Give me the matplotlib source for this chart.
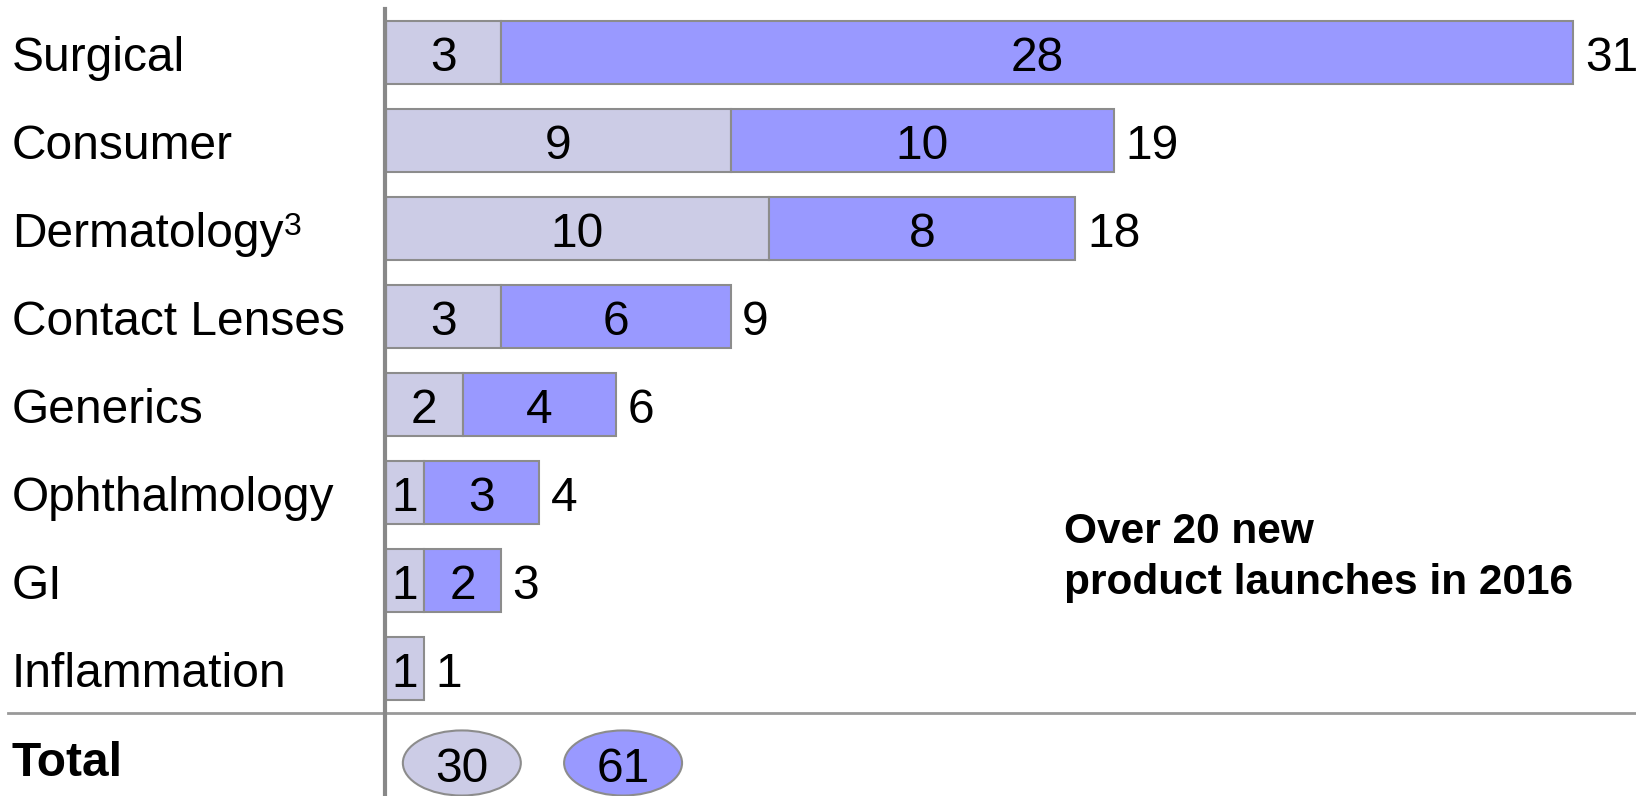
import matplotlib
matplotlib.use("Agg")
import matplotlib.pyplot as plt
from matplotlib.patches import Ellipse
from matplotlib.lines import Line2D
import matplotlib.transforms as mtransforms

plt.rcParams['font.family'] = ['Liberation Sans', 'DejaVu Sans']

categories = ["Surgical", "Consumer", "Dermatology", "Contact Lenses",
              "Generics", "Ophthalmology", "GI", "Inflammation"]
existing = [3, 9, 10, 3, 2, 1, 1, 1]
new = [28, 10, 8, 6, 4, 3, 2, 0]
footnotes = {"Dermatology": "3"}

light = "#CCCCE6"
blue = "#9999FF"
edge = "#8C8C8C"

W, H = 1636, 796
fig = plt.figure(figsize=(W / 100, H / 100), dpi=100)
x0 = 386 / W
ax = fig.add_axes([x0, 0, 1 - x0, 1])
px_per_unit = 38.3
ax.set_xlim(0, (W - 386) / px_per_unit)
row_px = 88.0
top_px = 52.5
ax.set_ylim((H - top_px) / row_px, -top_px / row_px)
ax.axis("off")

bar_h = 0.716
fs = 34.5
dy = 0.07  # nudge text so the digits sit centred in the bars
for i, (cat, a, b) in enumerate(zip(categories, existing, new)):
    ax.barh(i, a, height=bar_h, color=light, edgecolor=edge, linewidth=1.5)
    ax.text(a / 2, i + dy, str(a), ha="center", va="center", fontsize=fs)
    if b > 0:
        ax.barh(i, b, left=a, height=bar_h, color=blue, edgecolor=edge, linewidth=1.5)
        ax.text(a + b / 2, i + dy, str(b), ha="center", va="center", fontsize=fs)
    ax.text(a + b + 0.3, i + dy, str(a + b), ha="left", va="center", fontsize=fs)

lbl_tr = mtransforms.blended_transform_factory(fig.transFigure, ax.transData)
for i, cat in enumerate(categories):
    t = ax.text(12 / W, i + dy, cat, transform=lbl_tr, ha="left", va="center", fontsize=fs)
    if cat in footnotes:
        ax.annotate(footnotes[cat], xy=(1, 1), xycoords=t, xytext=(0.5, 0),
                    textcoords="offset points", ha="left", va="top", fontsize=23)

# separator between categories and totals
sep_y = len(categories) - 0.5
ax.add_line(Line2D([8 / W, 1], [sep_y, sep_y], transform=lbl_tr, color="#999999",
                   linewidth=2, clip_on=False))
# vertical axis line
fig.add_artist(Line2D([385 / W, 385 / W], [0, 1 - 9 / H], color="#888888", linewidth=3))

# totals row
tot_y = (763 - top_px) / row_px
ax.text(12 / W, tot_y, "Total", transform=lbl_tr, ha="left", va="center",
        fontsize=fs, fontweight="bold")
totals = [sum(existing), sum(new)]
for cx, val, col in zip([1.98, 6.19], totals, [light, blue]):
    ax.add_patch(Ellipse((cx, tot_y), 3.08, 0.74, facecolor=col, edgecolor=edge,
                         linewidth=1.5, clip_on=False))
    ax.text(cx, tot_y + dy, str(val), ha="center", va="center", fontsize=fs)

ax.text((1064 - 386) / px_per_unit, (553 - top_px) / row_px + dy - 0.02,
        "Over 20 new\nproduct launches in 2016", ha="left", va="center",
        fontsize=30.5, fontweight="bold", linespacing=1.38)

fig.savefig("out.png", dpi=100)
